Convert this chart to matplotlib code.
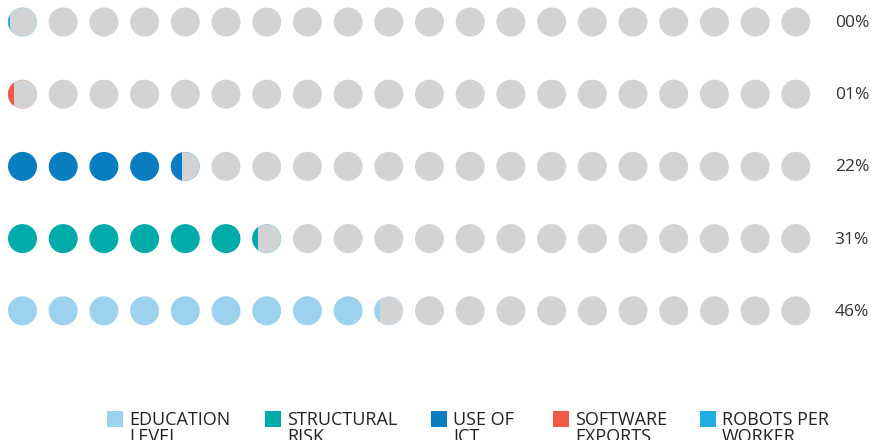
import matplotlib
matplotlib.use("Agg")
import matplotlib.pyplot as plt
from matplotlib.patches import Circle, Rectangle

# ---- data ----
row_names = ["ROBOTS PER\nWORKER", "SOFTWARE\nEXPORTS", "USE OF\nICT", "STRUCTURAL\nRISK", "EDUCATION\nLEVEL"]
row_values = [0.3, 1, 22, 31, 46]          # percent
row_labels = ["00%", "01%", "22%", "31%", "46%"]
row_colors = ["#1fade4", "#ef5a45", "#0a7dc1", "#00aba9", "#9dd2ee"]

legend_names = ["EDUCATION\nLEVEL", "STRUCTURAL\nRISK", "USE OF\nICT", "SOFTWARE\nEXPORTS", "ROBOTS PER\nWORKER"]
legend_colors = ["#9dd2ee", "#00aba9", "#0a7dc1", "#ef5a45", "#1fade4"]

n_dots = 20
pct_per_dot = 100 / n_dots
gray = "#d1d3d4"

plt.rcParams['font.family'] = ['Open Sans', 'DejaVu Sans']

fig = plt.figure(figsize=(8.71, 4.40), dpi=100)
ax = fig.add_axes([0, 0, 1, 1])
ax.set_xlim(0, 871)
ax.set_ylim(440, 0)
ax.set_aspect('equal')
ax.axis('off')

x0, dx = 22.5, 40.7
y0, dy = 22, 72.2
r = 14.5

for ri, (val, lab, col) in enumerate(zip(row_values, row_labels, row_colors)):
    y = y0 + ri * dy
    for i in range(n_dots):
        x = x0 + i * dx
        frac = min(max((val - i * pct_per_dot) / pct_per_dot, 0), 1)
        if frac >= 1:
            ax.add_patch(Circle((x, y), r, facecolor=col, edgecolor='none'))
        elif frac <= 0:
            ax.add_patch(Circle((x, y), r, facecolor=gray, edgecolor='none'))
        else:
            ax.add_patch(Circle((x, y), r, facecolor=col, edgecolor='none', alpha=0.55))
            g = Circle((x, y), r - 0.35, facecolor=gray, edgecolor='none')
            ax.add_patch(g)
            c = Circle((x, y), r, facecolor=col, edgecolor='none')
            ax.add_patch(c)
            clip = Rectangle((x - r - 2, y - r - 2), 2 + 2 * r * frac, 2 * r + 4,
                             transform=ax.transData)
            c.set_clip_path(clip)
    ax.text(869, y + 1, lab, ha='right', va='center', fontsize=12.5, color='#333333')

# legend
leg_x = [107, 265, 431, 553, 700]
for lx, name, col in zip(leg_x, legend_names, legend_colors):
    ax.add_patch(Rectangle((lx, 411), 16, 16, facecolor=col, edgecolor='none'))
    ax.text(lx + 22, 411, name, ha='left', va='top', fontsize=13,
            color='#222222', linespacing=0.9)

fig.savefig("out.png", dpi=100)
